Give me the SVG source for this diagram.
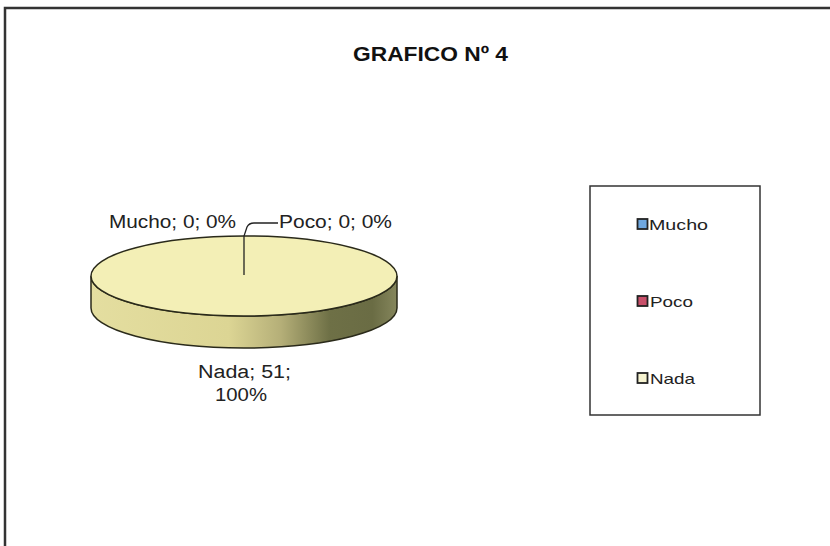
<svg xmlns="http://www.w3.org/2000/svg" width="830" height="546" viewBox="0 0 830 546">
<defs>
<linearGradient id="side" x1="91" y1="0" x2="397" y2="0" gradientUnits="userSpaceOnUse">
<stop offset="0" stop-color="#e4dea0"/>
<stop offset="0.45" stop-color="#dcd594"/>
<stop offset="0.62" stop-color="#b5af78"/>
<stop offset="0.78" stop-color="#6e7046"/>
<stop offset="0.92" stop-color="#6a6c44"/>
<stop offset="1" stop-color="#85865c"/>
</linearGradient>
<style>
.lbl{font-family:"Liberation Sans",Arial,sans-serif;font-size:18px;fill:#222}
.leg{font-family:"Liberation Sans",Arial,sans-serif;font-size:15px;fill:#222}
.ttl{font-family:"Liberation Sans",Arial,sans-serif;font-size:21px;font-weight:bold;fill:#111}
.sw{stroke:#222;stroke-width:1.8}
</style>
</defs>
<rect width="830" height="546" fill="#ffffff"/>
<g id="frame">
<polyline points="5,546 5,8 830,8" fill="none" stroke="#333" stroke-width="2.5"/>
</g>
<g id="title">
<text class="ttl" x="353" y="61" textLength="155" lengthAdjust="spacingAndGlyphs">GRAFICO Nº 4</text>
</g>
<g id="pie">
<path d="M91,276 L91,308 A153,40 0 0 0 397,308 L397,276 A153,40 0 0 1 91,276 Z" fill="url(#side)" stroke="#2a2a1a" stroke-width="1.5"/>
<ellipse cx="244" cy="276" rx="153" ry="40" fill="#f3efb6" stroke="#2a2a1a" stroke-width="1.5"/>
</g>
<g id="connectors">
<path d="M244,275 L244,236 L247,227 Q249,223 254,223 L278,223" fill="none" stroke="#222" stroke-width="1.3"/>
</g>
<g id="labels">
<text class="lbl" x="109" y="228" textLength="127" lengthAdjust="spacingAndGlyphs">Mucho; 0; 0%</text>
<text class="lbl" x="279" y="228" textLength="113" lengthAdjust="spacingAndGlyphs">Poco; 0; 0%</text>
<text class="lbl" x="198" y="378" textLength="93" lengthAdjust="spacingAndGlyphs">Nada; 51;</text>
<text class="lbl" x="215" y="401" textLength="52" lengthAdjust="spacingAndGlyphs">100%</text>
</g>
<g id="legend">
<rect x="590" y="186" width="170" height="229" fill="#fff" stroke="#333" stroke-width="1.5"/>
<g id="leg-mucho">
<rect class="sw" x="637.5" y="219" width="10" height="10" fill="#6fa8e0"/>
<text class="leg" x="649" y="230" textLength="59" lengthAdjust="spacingAndGlyphs">Mucho</text>
</g>
<g id="leg-poco">
<rect class="sw" x="637.5" y="296" width="10" height="10" fill="#c8506a"/>
<text class="leg" x="650" y="307" textLength="43" lengthAdjust="spacingAndGlyphs">Poco</text>
</g>
<g id="leg-nada">
<rect class="sw" x="637.5" y="373" width="10" height="10" fill="#f6f3d0"/>
<text class="leg" x="650" y="384" textLength="45" lengthAdjust="spacingAndGlyphs">Nada</text>
</g>
</g>
</svg>
